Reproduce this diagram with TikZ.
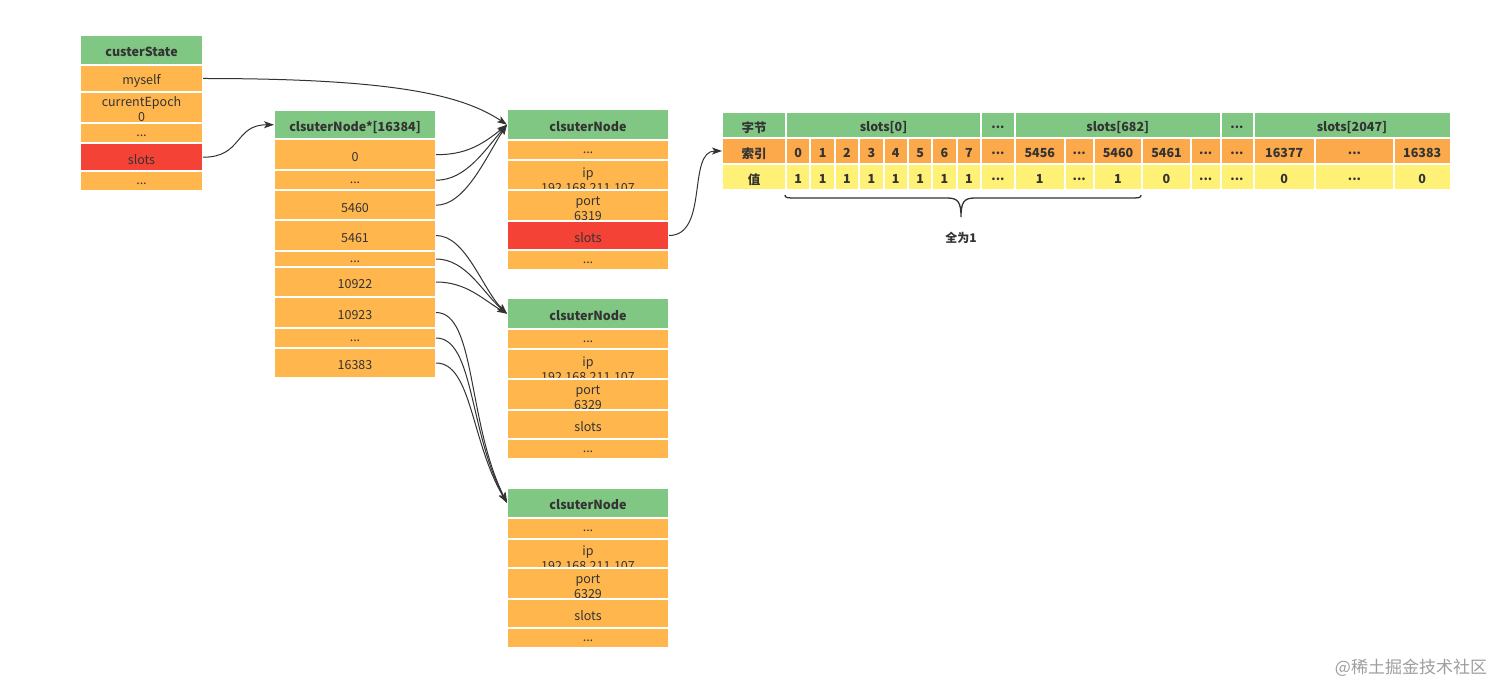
\documentclass[tikz,border=0pt]{standalone}
\usepackage{fontspec}
\setmainfont{Noto Sans CJK SC}
\usetikzlibrary{arrows.meta}
\definecolor{cgreen}{HTML}{81C784}
\definecolor{corange}{HTML}{FFB74D}
\definecolor{cidx}{HTML}{FBA94B}
\definecolor{cyellow}{HTML}{FFF176}
\definecolor{cred}{HTML}{F44336}
\definecolor{ctext}{HTML}{333333}
\newcommand\fsz{\fontsize{12.5}{15}\selectfont}
\newcommand\dd{...}
\newcommand\twol[3][0pt]{\raisebox{-#1}[\height][\depth]{\begin{tabular}{@{}c@{}}#2\\#3\end{tabular}}}
\newcommand\cellbox[7][]{%
  \node[cell,#1,minimum width={(#5-#3)*1pt},minimum height={(#6-#4)*1pt}] (#2) at ({(#3+#5)/2},{(#4+#6)/2}) {\raisebox{-2.3pt}[\height][\depth]{#7}};}
\tikzset{
  cell/.style={draw=white, line width=2pt, inner sep=0pt, outer sep=0pt, text=ctext, font=\fsz, fill=corange},
  hdr/.style={fill=cgreen, font=\fsz\bfseries},
  redc/.style={fill=cred},
  idx/.style={fill=cidx, font=\fsz\bfseries},
  val/.style={fill=cyellow, font=\fsz\bfseries},
  conn/.style={draw=ctext, line width=1pt, -{Stealth[length=10pt,width=7pt,inset=2.5pt]}},
}
\begin{document}
\begin{tikzpicture}[x=1pt,y=-1pt]
\useasboundingbox[fill=white] (0,0) rectangle (1512,700);
% custerState
\cellbox[hdr]{cs}{80}{35}{203}{65}{custerState}
\cellbox{cs1}{80}{65}{203}{92}{myself}
\cellbox{cs2}{80}{92}{203}{123}{\twol[1.2pt]{currentEpoch}{0}}
\cellbox{cs3}{80}{123}{203}{143.5}{\dd}
\cellbox[redc]{cs4}{80}{143.5}{203}{171}{slots}
\cellbox{cs5}{80}{171}{203}{191}{\dd}
% clsuterNode array
\cellbox[hdr]{mh}{274}{110}{436}{139.5}{clsuterNode*[16384]}
\cellbox{m1}{274}{139.5}{436}{170}{0}
\cellbox{m2}{274}{170}{436}{190.5}{\dd}
\cellbox{m3}{274}{190.5}{436}{220}{5460}
\cellbox{m4}{274}{220}{436}{251}{5461}
\cellbox{m5}{274}{251}{436}{267}{\dd}
\cellbox{m6}{274}{267}{436}{297}{10922}
\cellbox{m7}{274}{297}{436}{328}{10923}
\cellbox{m8}{274}{328}{436}{348}{\dd}
\cellbox{m9}{274}{348}{436}{378}{16383}
% node 1
\cellbox[hdr]{n1h}{507}{109.5}{669}{140}{clsuterNode}
\cellbox{n1a}{507}{140}{669}{161}{\dd}
\cellbox{n1b}{507}{161}{669}{190}{\twol[4pt]{ip}{192.168.211.107}}
\cellbox{n1c}{507}{190}{669}{221}{\twol[2.2pt]{port}{6319}}
\cellbox[redc]{n1d}{507}{221}{669}{250}{slots}
\cellbox{n1e}{507}{250}{669}{270}{\dd}
% node 2
\cellbox[hdr]{n2h}{507}{298.5}{669}{329}{clsuterNode}
\cellbox{n2a}{507}{329}{669}{350}{\dd}
\cellbox{n2b}{507}{350}{669}{379}{\twol[4pt]{ip}{192.168.211.107}}
\cellbox{n2c}{507}{379}{669}{410}{\twol[2.2pt]{port}{6329}}
\cellbox{n2d}{507}{410}{669}{439}{slots}
\cellbox{n2e}{507}{439}{669}{459}{\dd}
% node 3
\cellbox[hdr]{n3h}{507}{487.5}{669}{518}{clsuterNode}
\cellbox{n3a}{507}{518}{669}{539}{\dd}
\cellbox{n3b}{507}{539}{669}{568}{\twol[4pt]{ip}{192.168.211.107}}
\cellbox{n3c}{507}{568}{669}{599}{\twol[2.2pt]{port}{6329}}
\cellbox{n3d}{507}{599}{669}{628}{slots}
\cellbox{n3e}{507}{628}{669}{648}{\dd}
% slots table
\cellbox[hdr]{sh0}{722}{112.5}{786}{138}{字节}
\cellbox[hdr]{sh1}{786}{112.5}{981}{138}{slots[0]}
\cellbox[hdr]{sh2}{981}{112.5}{1015}{138}{\dd}
\cellbox[hdr]{sh3}{1015}{112.5}{1220.5}{138}{slots[682]}
\cellbox[hdr]{sh4}{1220.5}{112.5}{1253.5}{138}{\dd}
\cellbox[hdr]{sh5}{1253.5}{112.5}{1450.5}{138}{slots[2047]}
\cellbox[idx]{si0}{722}{138}{786}{164}{索引}
\cellbox[val]{sv0}{722}{164}{786}{190}{值}
\foreach \a/\b/\i/\v [count=\k] in {786/810.375/0/1, 810.375/834.75/1/1, 834.75/859.125/2/1, 859.125/883.5/3/1, 883.5/907.875/4/1, 907.875/932.25/5/1, 932.25/956.625/6/1, 956.625/981/7/1, 981/1015/\dd/\dd, 1015/1064.5/5456/1, 1064.5/1094/\dd/\dd, 1094/1142/5460/1, 1142/1191/5461/0, 1191/1220.5/\dd/\dd, 1220.5/1253.5/\dd/\dd, 1253.5/1315/16377/0, 1315/1394/\dd/\dd, 1394/1450.5/16383/0}{
  \cellbox[idx]{si\k}{\a}{138}{\b}{164}{\i}
  \cellbox[val]{sv\k}{\a}{164}{\b}{190}{\v}
}
% connectors
\draw[conn] (cs1.east) .. controls +(190,0) and +(-45,-30) .. (n1h.west);
\draw[conn] (cs4.east) .. controls +(40,0) and +(-40,0) .. (mh.west);
\draw[conn] (m1.east) .. controls +(30,0) and +(-25,20) .. (n1h.west);
\draw[conn] (m2.east) .. controls +(30,0) and +(-22,25) .. (n1h.west);
\draw[conn] (m3.east) .. controls +(30,0) and +(-20,30) .. (n1h.west);
\draw[conn] (m4.east) .. controls +(30,0) and +(-25,-25) .. (n2h.west);
\draw[conn] (m5.east) .. controls +(30,0) and +(-25,-22) .. (n2h.west);
\draw[conn] (m6.east) .. controls +(30,0) and +(-25,-15) .. (n2h.west);
\draw[conn] (m7.east) .. controls +(40,0) and +(-40,-80) .. (n3h.west);
\draw[conn] (m8.east) .. controls +(38,0) and +(-38,-70) .. (n3h.west);
\draw[conn] (m9.east) .. controls +(36,0) and +(-36,-60) .. (n3h.west);
\draw[conn] (n1d.east) .. controls +(40,0) and +(-35,0) .. (si0.west);
% brace
\draw[ctext, line width=1.3pt] (785,195) .. controls (785,198) and (787,198) .. (797,198) -- (947,198) .. controls (958,198) and (961,202) .. (961,217)
  .. controls (961,202) and (964,198) .. (975,198) -- (1129,198) .. controls (1139,198) and (1141,198) .. (1141,195);
\node[text=ctext, font=\fontsize{12}{14}\selectfont\bfseries] (allone) at (961,238) {全为1};
\node[text=black!38, font=\fontsize{17}{20}\selectfont] (wm) at (1411,668) {@稀土掘金技术社区};
\end{tikzpicture}
\end{document}
